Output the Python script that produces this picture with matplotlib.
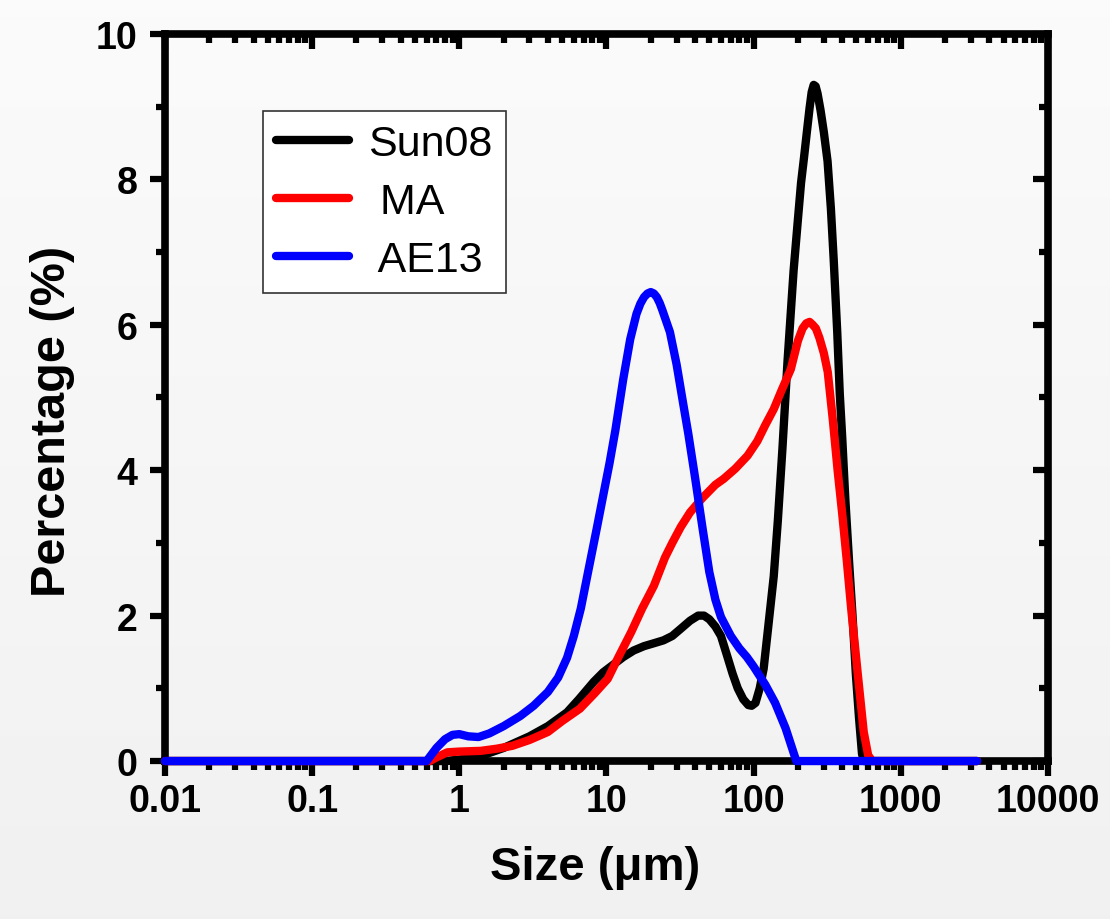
import numpy as np
import matplotlib.pyplot as plt
from matplotlib.ticker import LogLocator, FixedLocator, NullFormatter

plt.rcParams['font.family'] = ['Liberation Sans', 'DejaVu Sans']

# particle size distributions (size in um, percentage)
sun08_x = [0.01, 0.8, 1.0, 1.4, 2.0, 3.0, 4.0, 5.4, 6.5, 8.2, 9.5, 11.2, 13, 15.3, 18, 21,
           24.4, 28, 32, 37, 42, 46, 50, 55, 60, 66, 72, 78, 85, 92, 97, 103, 110, 117,
           125, 137, 146, 157, 170, 187, 200, 210, 220, 230, 240, 248, 256, 264, 272,
           285, 300, 318, 335, 350, 370, 385, 400, 420, 445, 470, 495, 520, 545, 560, 3300]
sun08_y = [0, 0, 0.02, 0.07, 0.18, 0.34, 0.48, 0.67, 0.85, 1.09, 1.22, 1.33, 1.43, 1.52,
           1.58, 1.62, 1.66, 1.72, 1.82, 1.93, 2.0, 2.0, 1.95, 1.85, 1.72, 1.45, 1.2, 1.0,
           0.85, 0.77, 0.76, 0.8, 1.0, 1.27, 1.8, 2.54, 3.3, 4.3, 5.5, 6.75, 7.45, 7.95,
           8.3, 8.65, 8.98, 9.2, 9.3, 9.28, 9.18, 8.95, 8.65, 8.25, 7.6, 6.9, 5.9, 5.05,
           4.45, 3.6, 2.75, 2.0, 1.2, 0.6, 0.1, 0, 0]

ma_x = [0.01, 0.63, 0.7, 0.83, 1.0, 1.4, 1.8, 2.3, 3.0, 4.0, 5.0, 6.6, 8.3, 10.2, 12,
        14.7, 17.5, 21, 25, 28, 32, 37, 45, 55, 62.5, 75, 91, 106, 120, 137, 155, 179,
        200, 215, 228, 240, 252, 265, 280, 300, 319, 345, 373, 400, 430, 460, 510, 560,
        600, 640, 3300]
ma_y = [0, 0, 0.05, 0.12, 0.13, 0.14, 0.17, 0.21, 0.29, 0.4, 0.55, 0.72, 0.93, 1.13,
        1.42, 1.77, 2.1, 2.41, 2.8, 3.0, 3.22, 3.42, 3.62, 3.8, 3.88, 4.02, 4.2, 4.4,
        4.62, 4.84, 5.1, 5.39, 5.78, 5.95, 6.02, 6.04, 6.0, 5.95, 5.82, 5.61, 5.35, 4.7,
        3.98, 3.4, 2.75, 2.1, 1.2, 0.4, 0.08, 0, 0]

ae13_x = [0.01, 0.6, 0.7, 0.8, 0.9, 1.0, 1.15, 1.35, 1.6, 2.0, 2.6, 3.2, 4.0, 4.7, 5.4,
          6.0, 6.7, 7.5, 8.5, 9.5, 10.5, 11.5, 13, 14.5, 16, 17, 18, 19, 20, 21, 22, 23,
          24, 27, 30, 33, 36, 40, 45, 50, 55, 60, 70, 80, 90, 100, 120, 140, 165, 195,
          3300]
ae13_y = [0, 0, 0.18, 0.3, 0.36, 0.37, 0.34, 0.33, 0.38, 0.48, 0.62, 0.76, 0.95, 1.15,
          1.42, 1.72, 2.1, 2.6, 3.15, 3.65, 4.1, 4.55, 5.25, 5.8, 6.15, 6.29, 6.38, 6.43,
          6.45, 6.43, 6.38, 6.3, 6.2, 5.9, 5.45, 4.95, 4.5, 3.9, 3.2, 2.6, 2.22, 1.98,
          1.72, 1.55, 1.43, 1.3, 1.05, 0.8, 0.45, 0, 0]

x_ticks = [0.01, 0.1, 1, 10, 100, 1000, 10000]
x_tick_labels = ['0.01', '0.1', '1', '10', '100', '1000', '10000']
y_ticks = [0, 2, 4, 6, 8, 10]
y_minor = [1, 3, 5, 7, 9]

fig = plt.figure(figsize=(11.1, 9.2), dpi=100)
fig.patch.set_facecolor('#f2f2f2')

# soft vertical gradient behind everything
bg = fig.add_axes([0, 0, 1, 1], zorder=-10)
grad = np.linspace(0.985, 0.945, 256).reshape(-1, 1)
bg.imshow(np.dstack([grad, grad, grad]), aspect='auto', extent=[0, 1, 0, 1])
bg.axis('off')

ax = fig.add_axes([0.1486, 0.1717, 0.7955, 0.7903])
ax.patch.set_alpha(0)

lw = 6
style = dict(lw=lw, clip_on=False, zorder=3, solid_joinstyle='round', solid_capstyle='round')
ax.plot(sun08_x, sun08_y, color='black', label='Sun08', **style)
ax.plot(ma_x, ma_y, color='#ff0000', label=' MA', **style)
ax.plot(ae13_x, ae13_y, color='#0000ff', label=' AE13', **style)

ax.set_xscale('log')
ax.set_xlim(0.01, 10000)
ax.set_ylim(0, 10)

for s in ax.spines.values():
    s.set_linewidth(5.5)

ax.xaxis.set_major_locator(FixedLocator(x_ticks))
ax.set_xticklabels(x_tick_labels)
ax.xaxis.set_minor_locator(LogLocator(base=10, subs=np.arange(2, 10), numticks=20))
ax.xaxis.set_minor_formatter(NullFormatter())
ax.set_yticks(y_ticks)
ax.set_yticks(y_minor, minor=True)

ax.tick_params(which='major', direction='out', length=11, width=4.5, labelsize=27)
ax.tick_params(axis='x', which='major', pad=5)
ax.tick_params(axis='y', which='major', pad=9)
ax.tick_params(which='minor', direction='out', length=6.5, width=4.5)
for lab in ax.get_xticklabels() + ax.get_yticklabels():
    lab.set_fontweight('bold')

# inward ticks on the top and right edges
top = ax.twiny()
top.set_xscale('log')
top.set_xlim(ax.get_xlim())
top.xaxis.set_major_locator(FixedLocator(x_ticks))
top.xaxis.set_minor_locator(LogLocator(base=10, subs=np.arange(2, 10), numticks=20))
top.xaxis.set_minor_formatter(NullFormatter())
top.tick_params(which='major', direction='in', length=11, width=4.5, labeltop=False)
top.tick_params(which='minor', direction='in', length=6.5, width=4.5)
for s in top.spines.values():
    s.set_visible(False)

right = ax.twinx()
right.set_ylim(ax.get_ylim())
right.set_yticks(y_ticks)
right.set_yticks(y_minor, minor=True)
right.tick_params(which='major', direction='in', length=11, width=4.5, labelright=False)
right.tick_params(which='minor', direction='in', length=6.5, width=4.5)
for s in right.spines.values():
    s.set_visible(False)

ax.set_xlabel('Size (\u03bcm)', fontsize=34, fontweight='bold')
ax.set_ylabel('Percentage (%)', fontsize=35, fontweight='bold')
ax.xaxis.set_label_coords(0.487, -0.115)
ax.yaxis.set_label_coords(-0.102, 0.468)

leg = ax.legend(loc='upper left', bbox_to_anchor=(0.111, 0.894), borderaxespad=0,
                fontsize=31, handlelength=1.7, handletextpad=0.45, labelspacing=0.42,
                borderpad=0.3, fancybox=False, framealpha=1, edgecolor='#333333')
leg.get_frame().set_linewidth(1.2)
leg.set_zorder(5)

fig.savefig('out.png', dpi=100, facecolor=fig.get_facecolor())
